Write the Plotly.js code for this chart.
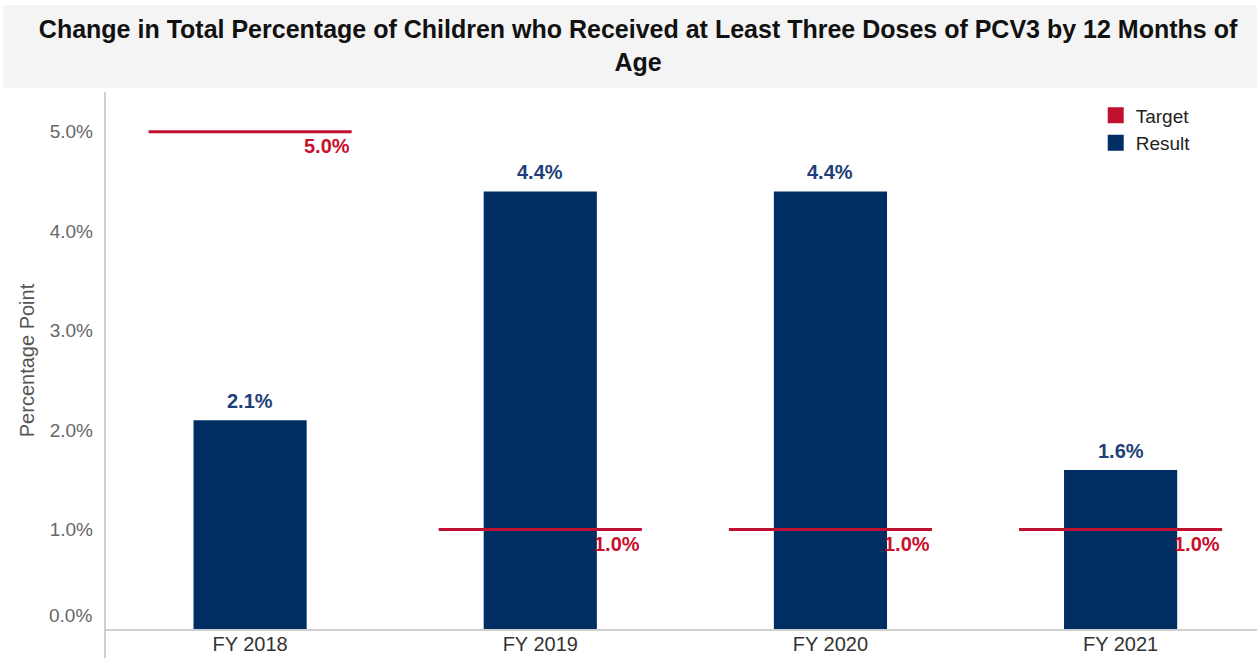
<!DOCTYPE html>
<html>
<head>
<meta charset="utf-8">
<script src="https://cdn.plot.ly/plotly-3.0.1.min.js"></script>
<style>
html,body{margin:0;padding:0;background:#fff;}
#chart{width:1257px;height:658px;}
</style>
</head>
<body>
<div id="chart"></div>
<script>
// ---- data ----
const categories = ["FY 2018", "FY 2019", "FY 2020", "FY 2021"];
const resultValues = [2.1, 4.4, 4.4, 1.6];
const targetValues = [5.0, 1.0, 1.0, 1.0];
const yTickVals = [0, 1, 2, 3, 4, 5];
const seriesNames = ["Target", "Result"];
const chartTitle = "Change in Total Percentage of Children who Received at Least Three Doses of PCV3 by 12 Months of<br>Age";
const yTitle = "Percentage Point";

// ---- styles ----
const FONT = "Liberation Sans, Arial, sans-serif";
const BLUE = "#002d62";
const RED = "#c0102f";
const LINE_H = 0.03;

const fmt = v => v.toFixed(1) + "%";

const resultTrace = {
  type: "bar",
  name: seriesNames[1],
  x: categories,
  y: resultValues,
  width: 0.39,
  marker: {color: BLUE},
  showlegend: false,
  hoverinfo: "x+y"
};

const targetTrace = {
  type: "bar",
  name: seriesNames[0],
  x: categories,
  y: targetValues.map(() => LINE_H),
  base: targetValues.map(v => v - LINE_H / 2),
  width: 0.70,
  marker: {color: RED},
  showlegend: false,
  hoverinfo: "x"
};

// legend-only entries with square swatches
const legendTarget = {
  type: "scatter", mode: "markers", name: seriesNames[0], x: [null], y: [null],
  marker: {symbol: "square", size: 17, color: RED}, legendrank: 1
};
const legendResult = {
  type: "scatter", mode: "markers", name: seriesNames[1], x: [null], y: [null],
  marker: {symbol: "square", size: 17, color: BLUE}, legendrank: 2
};

const annotations = [];
targetValues.forEach((v, i) => annotations.push({
  x: i + 0.35, y: v, xref: "x", yref: "y",
  text: "<b>" + fmt(v) + "</b>", showarrow: false,
  xanchor: "right", yanchor: "top", yshift: -1,
  font: {family: FONT, size: 20, color: "#c8102e"}
}));
resultValues.forEach((v, i) => annotations.push({
  x: categories[i], y: v, xref: "x", yref: "y",
  text: "<b>" + fmt(v) + "</b>", showarrow: false,
  xanchor: "center", yanchor: "bottom", yshift: 6,
  font: {family: FONT, size: 20, color: "#1f3f78"}
}));
// first y tick label lifted above the axis line
annotations.push({
  x: 0, xref: "paper", y: yTickVals[0], yref: "y",
  text: fmt(yTickVals[0]), showarrow: false,
  xanchor: "right", yanchor: "bottom", xshift: -11, yshift: 1,
  font: {family: FONT, size: 19, color: "#666"}
});

const layout = {
  width: 1257, height: 658,
  margin: {l: 105, r: 0, t: 92, b: 29},
  paper_bgcolor: "#fff", plot_bgcolor: "#fff",
  barmode: "overlay",
  showlegend: true,
  legend: {
    x: 0.860, xanchor: "left", y: 0.992, yanchor: "top",
    font: {family: FONT, size: 19, color: "#222"},
    bgcolor: "rgba(0,0,0,0)", tracegroupgap: 0
  },
  title: {
    text: chartTitle,
    font: {family: FONT, size: 25, color: "#111", weight: "bold"},
    x: 0.5076, xref: "container", xanchor: "center",
    y: 0.942, yref: "container", yanchor: "top"
  },
  xaxis: {
    type: "category",
    range: [-0.5, 3.47],
    showgrid: false, zeroline: false,
    showline: true, linecolor: "#cfcfcf", linewidth: 2,
    ticks: "", ticklabelstandoff: -4,
    tickfont: {family: FONT, size: 20, color: "#333"},
    fixedrange: true
  },
  yaxis: {
    range: [0, 5.4],
    tickvals: yTickVals.slice(1),
    ticktext: yTickVals.slice(1).map(fmt),
    showgrid: false, zeroline: false, showline: false,
    ticks: "", ticklen: 0, ticklabelstandoff: 11,
    tickfont: {family: FONT, size: 19, color: "#666"},
    title: {text: yTitle, font: {family: FONT, size: 20, color: "#555"}, standoff: 9},
    fixedrange: true
  },
  shapes: [
    {type: "rect", xref: "paper", yref: "paper", x0: -0.0885, x1: 1.0, y0: 1.0074, y1: 1.162,
     fillcolor: "#f4f4f4", line: {width: 0}, layer: "below"},
    {type: "line", xref: "paper", yref: "paper", x0: 0, x1: 0, y0: -0.054, y1: 1.0,
     line: {color: "#cfcfcf", width: 2}}
  ],
  annotations: annotations
};

Plotly.newPlot("chart", [resultTrace, targetTrace, legendTarget, legendResult], layout,
  {displayModeBar: false, staticPlot: true});
</script>
</body>
</html>
